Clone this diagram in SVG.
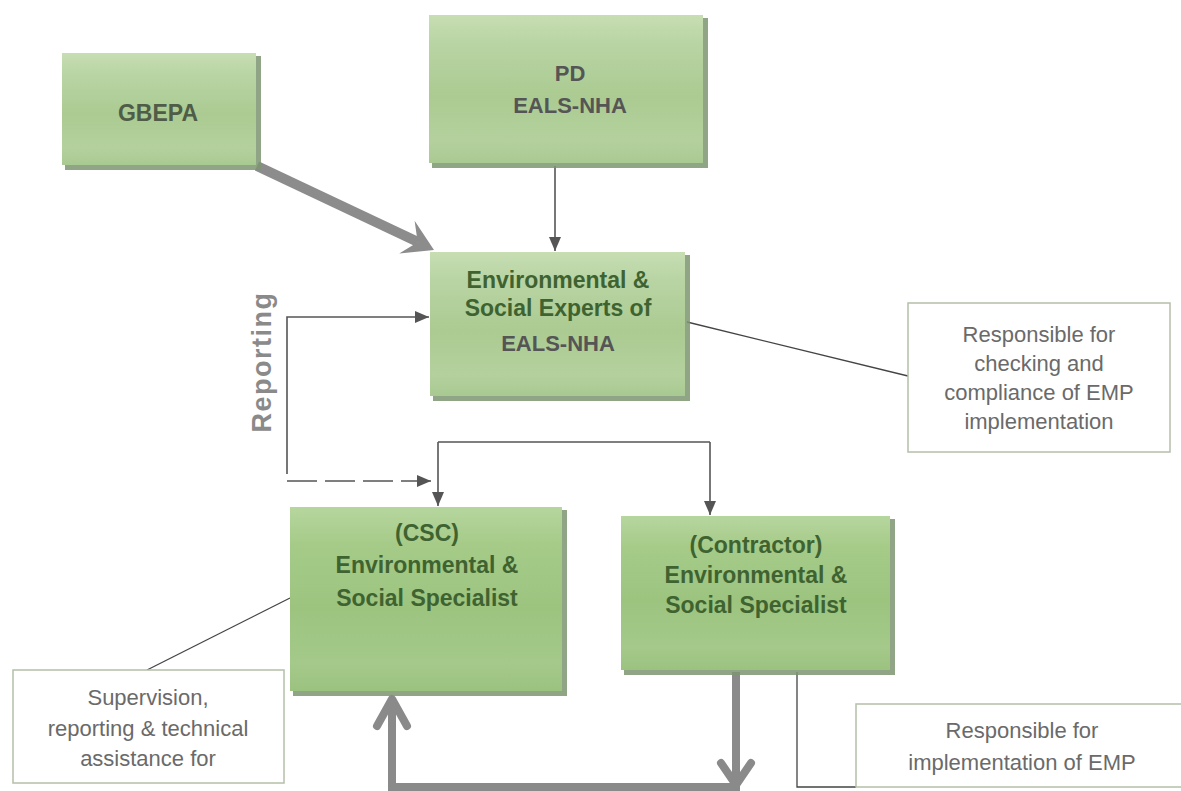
<svg xmlns="http://www.w3.org/2000/svg" width="1181" height="791" viewBox="0 0 1181 791">
  <style>
    .box { stroke: none; }
    .shadow { fill: #7c9570; opacity: 0.85; }
    .note { fill: #ffffff; stroke: #b4c0a8; stroke-width: 1.5; }
    .t { font-family: "Liberation Sans", Arial, sans-serif; font-weight: bold; text-anchor: middle; }
    .tg { fill: #3f6330; font-size: 23px; }
    .tgray { fill: #555555; font-size: 22px; }
    .n { font-family: "Liberation Sans", Arial, sans-serif; font-size: 22px; fill: #6a6a6a; text-anchor: middle; }
    .thin { fill: none; stroke: #555555; stroke-width: 1.6; }
    .lead { fill: none; stroke: #444444; stroke-width: 1.3; }
    .thick { fill: none; stroke: #8a8a8a; stroke-width: 8; }
    .chev { fill: none; stroke: #8a8a8a; stroke-width: 8; stroke-linecap: round; stroke-linejoin: round; }
  </style>
  <defs>
    <linearGradient id="gLight" x1="0" y1="0" x2="0" y2="1">
      <stop offset="0" stop-color="#c7deb3"/>
      <stop offset="0.2" stop-color="#b8d4a3"/>
      <stop offset="0.55" stop-color="#abcb92"/>
      <stop offset="0.85" stop-color="#b4d19d"/>
      <stop offset="1" stop-color="#a9c992"/>
    </linearGradient>
    <linearGradient id="gStrong" x1="0" y1="0" x2="0" y2="1">
      <stop offset="0" stop-color="#b6d69e"/>
      <stop offset="0.2" stop-color="#a6cb89"/>
      <stop offset="0.55" stop-color="#9cc47f"/>
      <stop offset="0.85" stop-color="#a4c98a"/>
      <stop offset="1" stop-color="#9cc280"/>
    </linearGradient>
    <marker id="arr" markerUnits="userSpaceOnUse" markerWidth="14" markerHeight="12" refX="14" refY="6" orient="auto">
      <path d="M0,0 L14,6 L0,12 z" fill="#555555"/>
    </marker>
  </defs>

  <g id="connectors">
    <!-- GBEPA to Experts thick arrow -->
    <line x1="257" y1="166" x2="418" y2="242" stroke="#8c8c8c" stroke-width="10"/>
    <polygon points="434,250 414.6,220.8 417.7,242.3 399.2,253.4" fill="#8c8c8c"/>
    <!-- PD to Experts -->
    <line class="thin" x1="555" y1="166" x2="555" y2="251" marker-end="url(#arr)"/>
    <!-- Reporting -->
    <path class="thin" d="M287,474 V317 H429" marker-end="url(#arr)"/>
    <path class="thin" d="M287,481 H431" stroke-dasharray="30 8" marker-end="url(#arr)"/>
    <text transform="translate(271,362) rotate(-90)" font-family="'Liberation Sans', Arial, sans-serif" font-weight="bold" font-size="27" letter-spacing="1.5" fill="#8a8a8a" text-anchor="middle">Reporting</text>
    <!-- Fork to CSC and Contractor -->
    <path class="thin" d="M438,442 H710"/>
    <line class="thin" x1="438" y1="442" x2="438" y2="506" marker-end="url(#arr)"/>
    <line class="thin" x1="710" y1="442" x2="710" y2="515" marker-end="url(#arr)"/>
    <!-- Leader lines to notes -->
    <line class="lead" x1="687" y1="322" x2="908" y2="376"/>
    <line class="lead" x1="290" y1="598" x2="147" y2="670"/>
    <path class="lead" d="M797,672 V787 H856"/>
    <!-- Bottom thick loop -->
    <path class="thick" d="M392,700 V787 H736 V672"/>
    <polyline class="chev" points="377,726 392,699 407,726"/>
    <polyline class="chev" points="721,763 736,785 751,763"/>
  </g>

  <g id="gbepa">
    <rect class="shadow" x="65" y="56" width="196" height="114"/>
    <rect class="box" x="62" y="53" width="194" height="112" fill="url(#gLight)"/>
    <text class="t" x="158" y="121" font-size="23" fill="#4f5c48">GBEPA</text>
  </g>

  <g id="pd">
    <rect class="shadow" x="432" y="18" width="276" height="150"/>
    <rect class="box" x="429" y="15" width="274" height="148" fill="url(#gLight)"/>
    <text class="t tgray" x="570" y="81">PD</text>
    <text class="t tgray" x="570" y="113">EALS-NHA</text>
  </g>

  <g id="experts">
    <rect class="shadow" x="433" y="255" width="257" height="146"/>
    <rect class="box" x="430" y="252" width="255" height="144" fill="url(#gLight)"/>
    <text class="t tg" x="558" y="288">Environmental &amp;</text>
    <text class="t tg" x="558" y="316">Social Experts of</text>
    <text class="t tgray" x="558" y="351">EALS-NHA</text>
  </g>

  <g id="note-checking">
    <rect class="note" x="908" y="303" width="262" height="149"/>
    <text class="n" x="1039" y="342">Responsible for</text>
    <text class="n" x="1039" y="371">checking and</text>
    <text class="n" x="1039" y="400">compliance of EMP</text>
    <text class="n" x="1039" y="429">implementation</text>
  </g>

  <g id="csc">
    <rect class="shadow" x="293" y="510" width="274" height="186"/>
    <rect class="box" x="290" y="507" width="272" height="184" fill="url(#gStrong)"/>
    <text class="t tg" x="427" y="541" fill="#4b6b3d">(CSC)</text>
    <text class="t tg" x="427" y="573">Environmental &amp;</text>
    <text class="t tg" x="427" y="606">Social Specialist</text>
  </g>

  <g id="contractor">
    <rect class="shadow" x="624" y="519" width="271" height="156"/>
    <rect class="box" x="621" y="516" width="269" height="154" fill="url(#gStrong)"/>
    <text class="t tg" x="756" y="553" fill="#4b6b3d">(Contractor)</text>
    <text class="t tg" x="756" y="583">Environmental &amp;</text>
    <text class="t tg" x="756" y="613">Social Specialist</text>
  </g>

  <g id="note-supervision">
    <rect class="note" x="13" y="670" width="271" height="113"/>
    <text class="n" x="148" y="705">Supervision,</text>
    <text class="n" x="148" y="736">reporting &amp; technical</text>
    <text class="n" x="148" y="766">assistance for</text>
  </g>

  <g id="note-implementation">
    <rect class="note" x="856" y="704" width="340" height="83"/>
    <text class="n" x="1022" y="738">Responsible for</text>
    <text class="n" x="1022" y="770">implementation of EMP</text>
  </g>
</svg>
